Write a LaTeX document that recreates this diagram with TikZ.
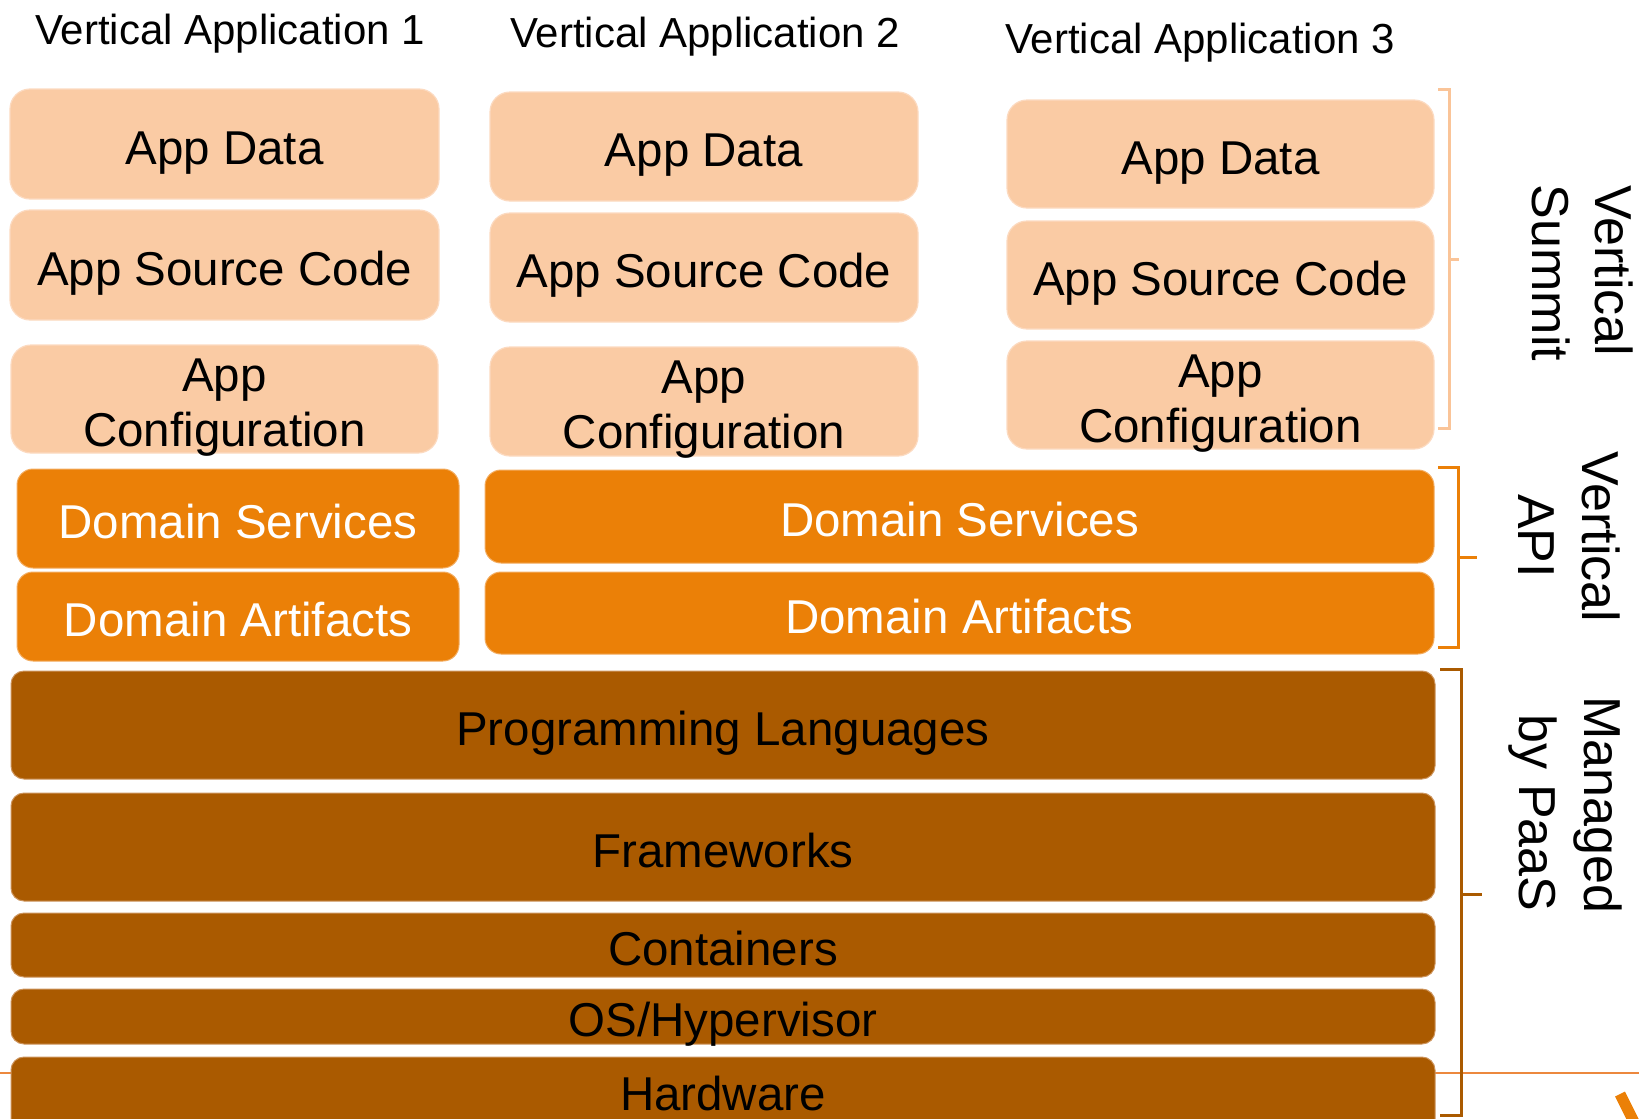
\documentclass[tikz,border=0pt]{standalone}
\usepackage{fontspec}
\setmainfont{Liberation Sans}
\usetikzlibrary{calc}
\definecolor{peach}{RGB}{250,203,164}
\definecolor{peachedge}{RGB}{252,218,192}
\definecolor{orng}{RGB}{235,128,7}
\definecolor{orngedge}{RGB}{243,172,95}
\definecolor{brwn}{RGB}{170,90,0}
\definecolor{brwnedge}{RGB}{205,148,92}
\definecolor{brpeach}{RGB}{250,196,152}
\definecolor{lineorange}{RGB}{236,136,62}
\newcommand\Layer[7]{\node[#6, minimum width={#4-#2}, minimum height={#5-#3}] (#1) at ({(#2+#4)/2},{(#3+#5)/2}) {#7};}
\begin{document}
\begin{tikzpicture}[x=1pt,y=-1pt,
  boxfont/.style={font=\fontsize{47.5}{56}\selectfont},
  layer/.style={rectangle, inner sep=0pt, text height=40pt, text depth=0pt, boxfont},
  appbox/.style={layer, fill=peach, draw=peachedge, line width=1.2pt, rounded corners=20pt, text=black},
  dombox/.style={layer, fill=orng, draw=orngedge, line width=1pt, rounded corners=16pt, text=white},
  infpaint/.style={fill=brwn, draw=brwnedge, line width=1pt, rounded corners=13pt},
  infbox/.style={layer, infpaint, text=black},
  titletxt/.style={anchor=base, inner sep=0pt, font=\fontsize{42}{50}\selectfont},
  sidelbl/.style={anchor=base, inner sep=0pt, rotate=-90, font=\fontsize{52}{62}\selectfont},
  cfgtxt/.style={anchor=base, inner sep=0pt, boxfont},
  bracket/.style={line width=3pt, line join=miter}
]
\useasboundingbox (0,0) rectangle (1639,1119);
\clip (0,0) rectangle (1639,1119);

% thin orange line behind everything
\draw[lineorange, line width=2.5pt] (0,1073) -- (1639,1073);
\draw[orng, line width=11pt] (1620,1094) -- (1637,1128);

% titles
\node[titletxt] (t1) at (230,44) {Vertical Application 1};
\node[titletxt] (t2) at (705,47) {Vertical Application 2};
\node[titletxt] (t3) at (1200,53) {Vertical Application 3};

% application column 1
\Layer{ad1}{10}{89}{439}{199}{appbox}{App Data}
\Layer{sc1}{10}{210}{439}{320}{appbox}{App Source Code}
\Layer{cf1}{11}{345}{438}{453}{appbox}{}
\node[cfgtxt] (cf1a) at ($(cf1.center)+(0,-8)$) {App};
\node[cfgtxt] (cf1b) at ($(cf1.center)+(0,47)$) {Configuration};

% application column 2
\Layer{ad2}{490}{92}{918}{201}{appbox}{App Data}
\Layer{sc2}{490}{213}{918}{322}{appbox}{App Source Code}
\Layer{cf2}{490}{347}{918}{456}{appbox}{}
\node[cfgtxt] (cf2a) at ($(cf2.center)+(0,-8)$) {App};
\node[cfgtxt] (cf2b) at ($(cf2.center)+(0,47)$) {Configuration};

% application column 3
\Layer{ad3}{1007}{100}{1434}{208}{appbox}{App Data}
\Layer{sc3}{1007}{221}{1434}{329}{appbox}{App Source Code}
\Layer{cf3}{1007}{341}{1434}{449}{appbox}{}
\node[cfgtxt] (cf3a) at ($(cf3.center)+(0,-8)$) {App};
\node[cfgtxt] (cf3b) at ($(cf3.center)+(0,47)$) {Configuration};

% domain layer
\Layer{dsl}{17}{469}{459}{568}{dombox}{Domain Services}
\Layer{dal}{17}{572}{459}{661}{dombox}{Domain Artifacts}
\Layer{dsr}{485}{470}{1434}{563}{dombox}{Domain Services}
\Layer{dar}{485}{572}{1434}{654}{dombox}{Domain Artifacts}

% platform layers
\Layer{pl}{11}{671}{1435}{779}{infbox}{Programming Languages}
\Layer{fw}{11}{793}{1435}{901}{infbox}{Frameworks}
\Layer{ct}{11}{913}{1435}{977}{infbox}{Containers}
\Layer{os}{11}{989}{1435}{1044}{infbox}{OS/Hypervisor}
\path[infpaint] (11,1057) rectangle (1435,1135);
\node[cfgtxt] (hw) at (723,1110) {Hardware};

% brackets
\draw[bracket, brpeach] (1438,89) -- (1449,89) -- (1449,428) -- (1438,428);
\draw[bracket, brpeach] (1449,259) -- (1459,259);
\draw[bracket, orng] (1438,467) -- (1458,467) -- (1458,647) -- (1438,647);
\draw[bracket, orng] (1458,557) -- (1477,557);
\draw[bracket, brwn] (1440,669) -- (1461,669) -- (1461,1115) -- (1440,1115);
\draw[bracket, brwn] (1461,894) -- (1482,894);

% side labels
\node[sidelbl] (vs1) at (1595,271) {Vertical};
\node[sidelbl] (vs2) at (1532,273) {Summit};
\node[sidelbl] (va1) at (1582,537) {Vertical};
\node[sidelbl] (va2) at (1518,536) {API};
\node[sidelbl] (mp1) at (1584,805) {Managed};
\node[sidelbl] (mp2) at (1519,813) {by PaaS};
\end{tikzpicture}
\end{document}
